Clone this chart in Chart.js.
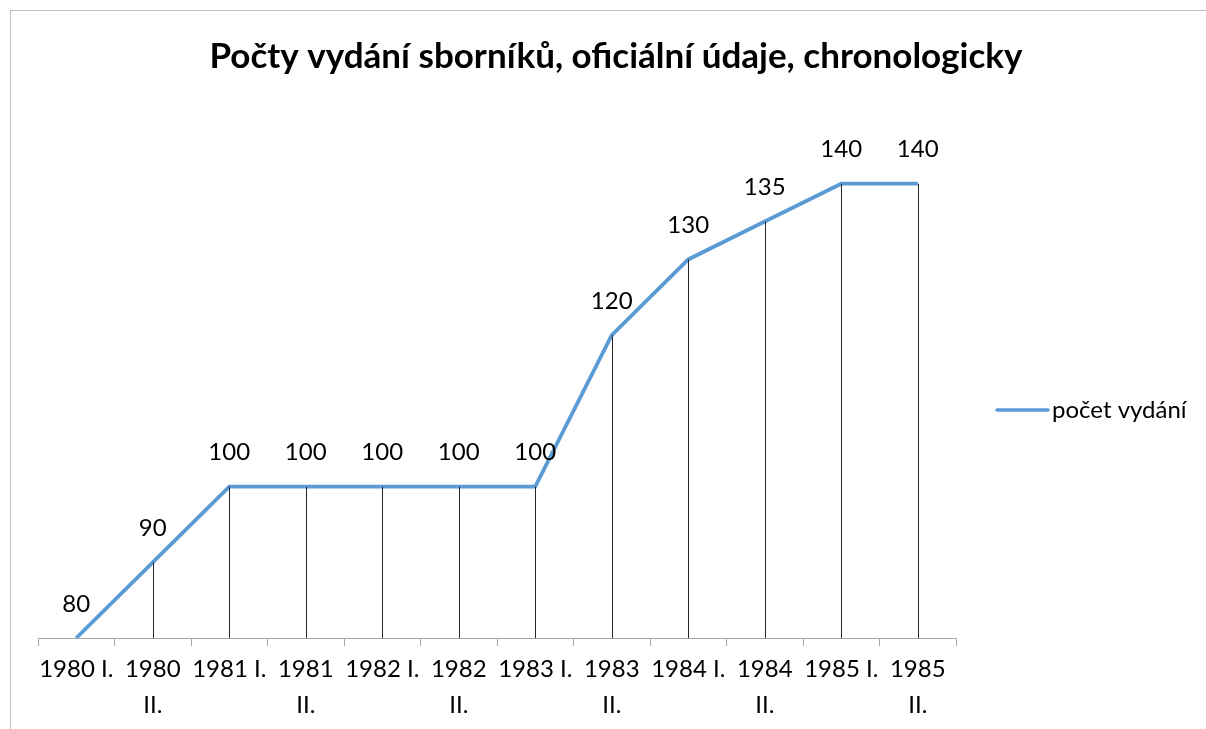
<!DOCTYPE html>
<html>
<head>
<meta charset="utf-8">
<script src="https://cdn.jsdelivr.net/npm/chart.js@4/dist/chart.umd.min.js"></script>
<style>
  html, body { margin: 0; padding: 0; background: #fff; }
  #wrap { width: 1206px; height: 729px; }
</style>
</head>
<body>
<div id="wrap"><canvas id="lineChart" width="1206" height="729"></canvas></div>
<script>
const periods = [['1980 I.'], ['1980', 'II.'], ['1981 I.'], ['1981', 'II.'], ['1982 I.'], ['1982', 'II.'],
                 ['1983 I.'], ['1983', 'II.'], ['1984 I.'], ['1984', 'II.'], ['1985 I.'], ['1985', 'II.']];
const editions = [80, 90, 100, 100, 100, 100, 100, 120, 130, 135, 140, 140];
const seriesName = 'počet vydání';
const chartTitle = 'Počty vydání sborníků, oficiální údaje, chronologicky';

const FONT = 'Lato, Calibri, Carlito, sans-serif';

// frame, title, drop lines, data labels, legend
const extras = {
    id: 'extras',
    beforeDraw(chart) {
        const ctx = chart.ctx;
        ctx.save();
        ctx.strokeStyle = '#bfbfbf';
        ctx.lineWidth = 1;
        ctx.strokeRect(10.5, 10.5, 1400, 1000);
        ctx.fillStyle = '#000';
        ctx.font = 'bold 35px ' + FONT;
        ctx.textAlign = 'center';
        ctx.textBaseline = 'middle';
        ctx.fillText(chartTitle, 616, 57);
        ctx.restore();
    },
    afterDatasetsDraw(chart) {
        const ctx = chart.ctx;
        const meta = chart.getDatasetMeta(0);
        const y0 = chart.scales.y.getPixelForValue(chart.scales.y.min);
        ctx.save();
        ctx.strokeStyle = '#262626';
        ctx.lineWidth = 1;
        meta.data.forEach(pt => {
            const x = Math.round(pt.x) + 0.5;
            ctx.beginPath();
            ctx.moveTo(x, pt.y);
            ctx.lineTo(x, y0);
            ctx.stroke();
        });
        ctx.restore();
    },
    afterDraw(chart) {
        const ctx = chart.ctx;
        const ds = chart.data.datasets[0];
        const meta = chart.getDatasetMeta(0);
        ctx.save();
        ctx.fillStyle = '#000';
        ctx.font = '24px ' + FONT;
        ctx.textAlign = 'center';
        ctx.textBaseline = 'middle';
        meta.data.forEach((pt, i) => {
            ctx.fillText(String(ds.data[i]), pt.x, pt.y - 34);
        });
        // legend
        const lx = chart.chartArea.right + 41;
        const ly = 410;
        ctx.strokeStyle = ds.borderColor;
        ctx.lineWidth = 3.5;
        ctx.lineCap = 'round';
        ctx.beginPath();
        ctx.moveTo(lx, ly);
        ctx.lineTo(lx + 51, ly);
        ctx.stroke();
        ctx.textAlign = 'left';
        ctx.fillText(ds.label, lx + 55, ly);
        ctx.restore();
    }
};

new Chart(document.getElementById('lineChart'), {
    type: 'line',
    data: {
        labels: periods,
        datasets: [{
            label: seriesName,
            data: editions,
            borderColor: '#5b9bd5', backgroundColor: '#5b9bd5',
            borderWidth: 3.8, pointRadius: 0, tension: 0, fill: false
        }]
    },
    options: {
        responsive: false, animation: false,
        layout: { padding: { left: 38, right: 250, top: 108, bottom: 1 } },
        scales: {
            x: {
                offset: true,
                grid: { display: true, offset: true, drawOnChartArea: false, tickLength: 8, color: '#a6a6a6' },
                border: { color: '#a6a6a6', width: 1 },
                ticks: { color: '#000', padding: 5, maxRotation: 0, autoSkip: false,
                         font: { family: FONT, size: 24, lineHeight: 1.5 } }
            },
            y: { display: false, min: 80, max: 150 }
        },
        plugins: {
            legend: { display: false },
            tooltip: { enabled: false },
            title: { display: false }
        }
    },
    plugins: [extras]
});
</script>
</body>
</html>
